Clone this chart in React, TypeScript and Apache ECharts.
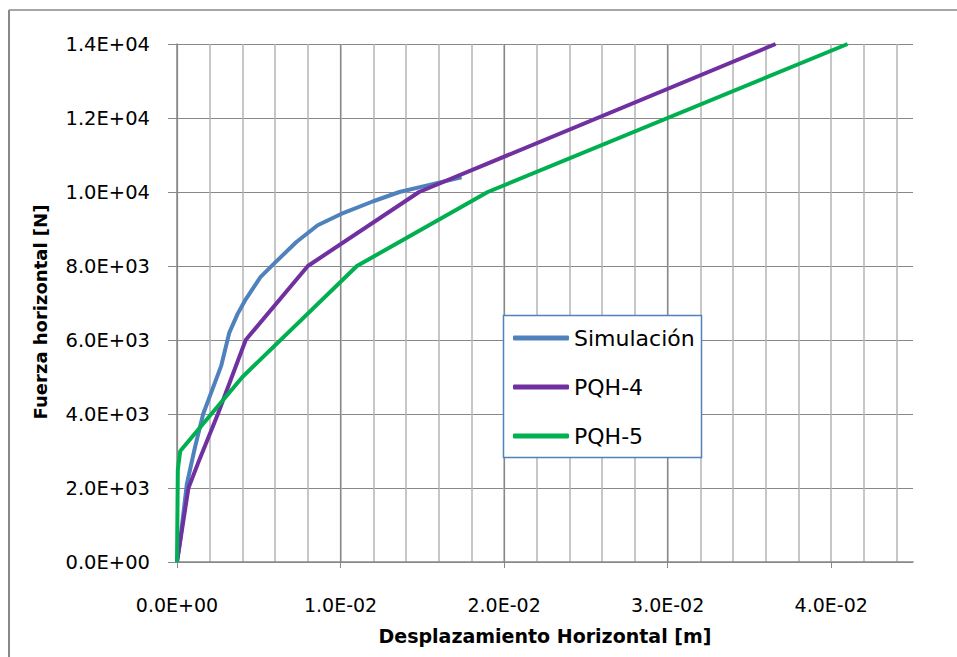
import React, { useEffect, useRef } from "react";
import * as echarts from "echarts";

// Simulación
const simX = [0, 0.0002, 0.0006, 0.0011, 0.0016, 0.0027, 0.0032, 0.0037, 0.0042, 0.0051, 0.0059, 0.0073, 0.0086, 0.01, 0.012, 0.0136, 0.0155, 0.0174];
const simY = [0, 600, 2100, 3100, 4000, 5300, 6200, 6700, 7100, 7700, 8050, 8650, 9100, 9400, 9750, 10000, 10200, 10400];
// PQH-4
const pqh4X = [0, 0.0007, 0.0014, 0.0025, 0.0042, 0.008, 0.0148, 0.0366];
const pqh4Y = [0, 2000, 2800, 4000, 6000, 8000, 10000, 14000];
// PQH-5
const pqh5X = [0, 0.00005, 0.0002, 0.004, 0.011, 0.019, 0.041];
const pqh5Y = [0, 2500, 3000, 5000, 8000, 10000, 14000];

const seriesNames = ["Simulación", "PQH-4", "PQH-5"];
const seriesColors = ["#4f81bd", "#7030a0", "#00b050"];
const xTicks = [0, 0.01, 0.02, 0.03, 0.04];

const xTitle = "Desplazamiento Horizontal [m]";
const yTitle = "Fuerza horizontal [N]";

function sci(v: number): string {
  if (Math.abs(v) < 1e-12) return "0.0E+00";
  const e = Math.floor(Math.log10(Math.abs(v)) + 1e-9);
  const m = v / Math.pow(10, e);
  const sign = e < 0 ? "-" : "+";
  return m.toFixed(1) + "E" + sign + String(Math.abs(e)).padStart(2, "0");
}

function zip(xs: number[], ys: number[]) {
  return xs.map((x, i) => [x, ys[i]]);
}

const FONT = "DejaVu Sans";

export default function App() {
  const ref = useRef<HTMLDivElement>(null);
  useEffect(() => {
    if (!ref.current) return;
    const chart = echarts.init(ref.current, undefined, { renderer: "svg" });
    const data = [zip(simX, simY), zip(pqh4X, pqh4Y), zip(pqh5X, pqh5Y)];
    chart.setOption({
      animation: false,
      backgroundColor: "#ffffff",
      grid: { left: 177, top: 44, right: 44, bottom: 95, containLabel: false },
      xAxis: [
        {
          type: "value",
          min: 0,
          max: 0.045,
          interval: 0.01,
          position: "bottom",
          z: 1,
          axisLine: { show: true, lineStyle: { color: "#888888", width: 1.5 } },
          axisTick: { show: true, length: 6, lineStyle: { color: "#888888" }, customValues: xTicks },
          axisLabel: {
            show: true,
            margin: 33,
            color: "#000",
            fontFamily: FONT,
            fontSize: 19,
            customValues: xTicks,
            formatter: (v: number) => {
              const r = Math.round(v * 100);
              return Math.abs(v * 100 - r) < 1e-6 ? sci(r / 100) : "";
            },
          },
          splitLine: { show: true, showMaxLine: false, lineStyle: { color: "#888888", width: 1.2 } },
          name: xTitle,
          nameLocation: "middle",
          nameGap: 64,
          nameTextStyle: { fontFamily: FONT, fontSize: 19, fontWeight: "bold", color: "#000" },
        },
        {
          type: "value",
          min: 0,
          max: 0.045,
          interval: 0.002,
          position: "bottom",
          z: 0,
          axisLine: { show: false },
          axisTick: { show: false },
          axisLabel: { show: false },
          splitLine: { show: true, showMaxLine: false, showMinLine: false, lineStyle: { color: "#b4b4b4", width: 1.5 } },
        },
      ],
      yAxis: {
        type: "value",
        min: 0,
        max: 14000,
        interval: 2000,
        axisLine: { show: true, lineStyle: { color: "#888888", width: 1.5 } },
        axisTick: { show: true, length: 9, lineStyle: { color: "#888888" } },
        axisLabel: {
          margin: 27,
          color: "#000",
          fontFamily: FONT,
          fontSize: 19.5,
          formatter: (v: number) => sci(v),
        },
        splitLine: { show: true, lineStyle: { color: "#888888", width: 1.2 } },
      },
      legend: {
        show: true,
        orient: "vertical",
        left: 513,
        top: 326,
        padding: 0,
        itemGap: 25,
        itemWidth: 56,
        itemHeight: 5,
        icon: "roundRect",
        z: 10,
        data: seriesNames,
        textStyle: { fontFamily: FONT, fontSize: 22, color: "#000", lineHeight: 24 },
      },
      graphic: [
        {
          type: "rect",
          z: 5,
          shape: { x: 503.5, y: 315.5, width: 198, height: 142 },
          style: { fill: "#ffffff", stroke: "#4f81bd", lineWidth: 1.5 },
        },
        {
          type: "line",
          z: 5,
          shape: { x1: 9, y1: 10, x2: 9, y2: 657 },
          style: { stroke: "#888888", lineWidth: 2 },
        },
        {
          type: "line",
          z: 5,
          shape: { x1: 9, y1: 10, x2: 957, y2: 10 },
          style: { stroke: "#888888", lineWidth: 1.5 },
        },
        {
          type: "text",
          z: 5,
          x: 40,
          y: 312,
          rotation: Math.PI / 2,
          style: {
            text: yTitle,
            fontFamily: FONT,
            fontSize: 18,
            fontWeight: "bold",
            fill: "#000",
            align: "center",
            verticalAlign: "middle",
          },
        },
      ],
      series: seriesNames.map((name, i) => ({
        name,
        type: "line",
        xAxisIndex: 0,
        data: data[i],
        showSymbol: false,
        symbol: "none",
        smooth: false,
        color: seriesColors[i],
        lineStyle: { color: seriesColors[i], width: 4 },
        z: 2 + i,
      })),
    });
    return () => chart.dispose();
  }, []);
  return (
    <div
      ref={ref}
      style={{ position: "fixed", left: 0, top: 0, width: 957, height: 657, background: "#fff" }}
    />
  );
}
